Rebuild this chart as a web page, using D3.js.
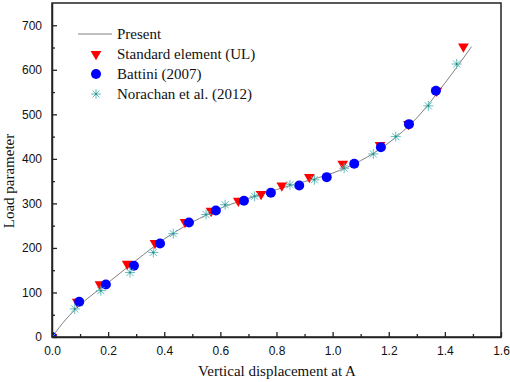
<!DOCTYPE html>
<html>
<head>
<meta charset="utf-8">
<script src="https://cdn.jsdelivr.net/npm/d3@7"></script>
<style>
body { margin: 0; background: #fff; }
</style>
</head>
<body>
<div id="chart"></div>
<script>
// data
var presentX = [0, 0.05, 0.1, 0.2, 0.3, 0.4, 0.5, 0.55, 0.6, 0.7, 0.8, 0.9, 1.0, 1.1, 1.2, 1.3, 1.4, 1.495];
var presentY = [0, 40, 72, 122, 172, 220, 258, 274, 289, 311, 331, 349, 368, 396, 436, 492, 570, 652];

var standardX = [0, 0.09, 0.171, 0.268, 0.367, 0.474, 0.567, 0.664, 0.745, 0.819, 0.917, 1.036, 1.169, 1.27, 1.371, 1.466];
var standardY = [0, 79, 118, 164, 211, 258, 283, 306, 321, 340, 359, 389, 431, 478, 553, 652];

var battiniX = [0, 0.097, 0.192, 0.292, 0.385, 0.488, 0.584, 0.684, 0.78, 0.881, 0.979, 1.077, 1.172, 1.272, 1.368];
var battiniY = [0, 79, 118, 160, 210, 257, 284, 306, 324, 340, 359, 389, 426, 478, 553];

var norachanX = [0, 0.081, 0.174, 0.278, 0.361, 0.432, 0.549, 0.617, 0.722, 0.848, 0.935, 1.041, 1.145, 1.225, 1.341, 1.442];
var norachanY = [0, 63, 104, 145, 190, 232, 275, 297, 316, 342, 353, 379, 411, 450, 519, 613];

var xTicks = [0, 0.2, 0.4, 0.6, 0.8, 1.0, 1.2, 1.4, 1.6];
var yTicks = [0, 100, 200, 300, 400, 500, 600, 700];
var legendLabels = ["Present", "Standard element (UL)", "Battini (2007)", "Norachan et al. (2012)"];

var width = 510, height = 382;
var mLeft = 52, mRight = 501, mTop = 3, mBottom = 337;

var svg = d3.select("#chart").append("svg").attr("width", width).attr("height", height);

var x = d3.scaleLinear().domain([0, 1.6]).range([mLeft, mRight]);
var y = d3.scaleLinear().domain([0, 750]).range([mBottom, mTop]);

var tickFont = "'Liberation Sans', Arial, sans-serif";
var serif = "'Liberation Serif', 'Times New Roman', serif";

svg.append("clipPath").attr("id", "plot").append("rect")
    .attr("x", mLeft).attr("y", mTop).attr("width", mRight - mLeft).attr("height", mBottom - mTop);

// present curve
var present = presentX.map(function (d, i) { return [d, presentY[i]]; });
var line = d3.line().x(function (d) { return x(d[0]); }).y(function (d) { return y(d[1]); }).curve(d3.curveMonotoneX);
svg.append("path").datum(present).attr("d", line).attr("fill", "none").attr("stroke", "#808080").attr("stroke-width", 1);

var tri = d3.symbol().type(d3.symbolTriangle).size(50);
var star = "M-5,0H5M0,-5V5M-3.5,-3.5L3.5,3.5M-3.5,3.5L3.5,-3.5";

function drawTri(g, px, py) {
    g.append("path").attr("d", tri).attr("transform", "translate(" + px + "," + py + ")rotate(180)").attr("fill", "#ff0000");
}
function drawDot(g, px, py) {
    g.append("circle").attr("cx", px).attr("cy", py).attr("r", 5).attr("fill", "#0000ff");
}
function drawStar(g, px, py) {
    var s = g.append("g").attr("transform", "translate(" + px + "," + py + ")");
    s.append("path").attr("d", star).attr("stroke", "#5fbdbd").attr("stroke-width", 1).attr("fill", "none");
    s.append("circle").attr("r", 1).attr("fill", "#2a7f7f");
}

var marks = svg.append("g").attr("clip-path", "url(#plot)");
standardX.forEach(function (d, i) { drawTri(marks, x(d), y(standardY[i])); });
battiniX.forEach(function (d, i) { drawDot(marks, x(d), y(battiniY[i])); });
norachanX.forEach(function (d, i) { drawStar(marks, x(d), y(norachanY[i])); });

// frame
svg.append("rect").attr("x", mLeft).attr("y", mTop).attr("width", mRight - mLeft).attr("height", mBottom - mTop)
    .attr("fill", "none").attr("stroke", "#222").attr("stroke-width", 1.5);

// minor ticks
svg.append("g").attr("transform", "translate(0," + mBottom + ")")
    .call(d3.axisBottom(x).tickValues(d3.range(0.1, 1.6, 0.2)).tickSizeInner(-3).tickSizeOuter(0).tickFormat(""))
    .call(function (g) { g.select(".domain").remove(); g.selectAll("line").attr("stroke", "#222").attr("stroke-width", 1.3); });
svg.append("g").attr("transform", "translate(" + mLeft + ",0)")
    .call(d3.axisLeft(y).tickValues(d3.range(50, 750, 100)).tickSizeInner(-3).tickSizeOuter(0).tickFormat(""))
    .call(function (g) { g.select(".domain").remove(); g.selectAll("line").attr("stroke", "#222").attr("stroke-width", 1.3); });

// major ticks
var xAxis = svg.append("g").attr("transform", "translate(0," + mBottom + ")")
    .call(d3.axisBottom(x).tickValues(xTicks).tickFormat(d3.format(".1f")).tickSizeInner(-5).tickSizeOuter(0).tickPadding(9));
var yAxis = svg.append("g").attr("transform", "translate(" + mLeft + ",0)")
    .call(d3.axisLeft(y).tickValues(yTicks).tickSizeInner(-5).tickSizeOuter(0).tickPadding(10));

[xAxis, yAxis].forEach(function (g) {
    g.select(".domain").attr("stroke", "#222").attr("stroke-width", 1.5);
    g.selectAll("line").attr("stroke", "#222").attr("stroke-width", 1.3);
    g.selectAll("text").attr("font-family", tickFont).attr("font-size", 12).attr("fill", "#111");
});

// axis titles
svg.append("text").attr("x", 277).attr("y", 376).attr("text-anchor", "middle")
    .attr("font-family", serif).attr("font-size", 15).attr("fill", "#111").text("Vertical displacement at A");
svg.append("text").attr("transform", "translate(14,181)rotate(-90)").attr("text-anchor", "middle")
    .attr("font-family", serif).attr("font-size", 15).attr("fill", "#111").text("Load parameter");

// legend
var legend = svg.append("g");
var rowY = [34, 54, 74, 94];
legend.append("line").attr("x1", 78).attr("x2", 112).attr("y1", rowY[0]).attr("y2", rowY[0]).attr("stroke", "#808080").attr("stroke-width", 1);
drawTri(legend, 96, rowY[1]);
drawDot(legend, 96, rowY[2]);
drawStar(legend, 96, rowY[3]);
legendLabels.forEach(function (t, i) {
    legend.append("text").attr("x", 117).attr("y", rowY[i] + 5).attr("font-family", serif).attr("font-size", 15).attr("fill", "#111").text(t);
});
</script>
</body>
</html>
